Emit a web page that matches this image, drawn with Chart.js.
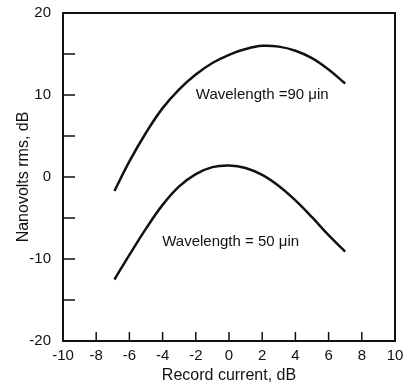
<!DOCTYPE html>
<html>
<head>
<meta charset="utf-8">
<script src="https://cdn.jsdelivr.net/npm/chart.js@4"></script>
<style>
  html, body { margin: 0; padding: 0; background: #fff; }
  #wrap { width: 411px; height: 385px; }
</style>
</head>
<body>
<div id="wrap"><canvas id="chart"></canvas></div>
<script>
// record current, dB
const recordCurrent = [-6.9, -6, -5, -4, -3, -2, -1, 0, 1, 2, 3, 4, 5, 6, 7];
// nanovolts rms, dB
const wave90 = [-1.7, 1.9, 5.4, 8.4, 10.7, 12.5, 13.9, 14.9, 15.6, 16.0, 15.9, 15.4, 14.5, 13.1, 11.4];
const wave50 = [-12.5, -9.5, -6.3, -3.4, -1.15, 0.35, 1.2, 1.4, 1.1, 0.25, -1.1, -2.85, -4.9, -7.1, -9.1];
const xTicks = [-10, -8, -6, -4, -2, 0, 2, 4, 6, 8, 10];
const yTicks = [-20, -15, -10, -5, 0, 5, 10, 15, 20];
const curveLabels = [
    { text: 'Wavelength =90 \u03bcin', x: 2, y: 10 },
    { text: 'Wavelength = 50 \u03bcin', x: 0.1, y: -7.9 }
];

const ink = '#111';
const font = "'Liberation Sans', Arial, sans-serif";

function pts(ys) {
    return recordCurrent.map((x, i) => ({ x: x, y: ys[i] }));
}

// box, inward ticks and curve labels
const decor = {
    id: 'decor',
    afterDraw(chart) {
        const ctx = chart.ctx;
        const a = chart.chartArea;
        const xs = chart.scales.x, ys = chart.scales.y;
        ctx.save();
        ctx.strokeStyle = ink;
        ctx.lineWidth = 2;
        ctx.strokeRect(a.left, a.top, a.right - a.left, a.bottom - a.top);
        ctx.lineWidth = 1.5;
        ctx.beginPath();
        xTicks.slice(1, -1).forEach(v => {
            const px = xs.getPixelForValue(v);
            ctx.moveTo(px, a.bottom);
            ctx.lineTo(px, a.bottom - 9);
        });
        yTicks.slice(1, -1).forEach(v => {
            const py = ys.getPixelForValue(v);
            ctx.moveTo(a.left, py);
            ctx.lineTo(a.left + 12, py);
        });
        ctx.stroke();

        ctx.fillStyle = ink;
        ctx.font = '15px ' + font;
        ctx.textAlign = 'center';
        ctx.textBaseline = 'middle';
        curveLabels.forEach(l => {
            ctx.fillText(l.text, xs.getPixelForValue(l.x), ys.getPixelForValue(l.y));
        });
        ctx.restore();
    }
};

new Chart(document.getElementById('chart'), {
    type: 'line',
    data: {
        datasets: [
            { data: pts(wave90), borderColor: ink, borderWidth: 2.5, pointRadius: 0, tension: 0.4, fill: false },
            { data: pts(wave50), borderColor: ink, borderWidth: 2.5, pointRadius: 0, tension: 0.4, fill: false }
        ]
    },
    options: {
        responsive: true,
        maintainAspectRatio: false,
        animation: false,
        layout: { padding: { left: 0, right: 16, top: 13, bottom: 0 } },
        plugins: {
            legend: { display: false },
            tooltip: { enabled: false }
        },
        scales: {
            x: {
                type: 'linear',
                min: -10,
                max: 10,
                afterBuildTicks: s => { s.ticks = xTicks.map(v => ({ value: v })); },
                afterFit: s => { s.height = 44; },
                grid: { display: false, drawTicks: false },
                border: { display: false },
                ticks: { color: ink, padding: 6, maxRotation: 0, font: { family: font, size: 15 } },
                title: { display: true, text: 'Record current, dB', color: ink, padding: { top: 3, bottom: 0 }, font: { family: font, size: 16 } }
            },
            y: {
                min: -20,
                max: 20,
                afterBuildTicks: s => { s.ticks = yTicks.map(v => ({ value: v })); },
                afterFit: s => { s.width = 63; s.paddingTop = 8; s.paddingBottom = 8; },
                grid: { display: false, drawTicks: false },
                border: { display: false },
                ticks: {
                    color: ink,
                    padding: 12,
                    font: { family: font, size: 15 },
                    callback: v => (v % 10 === 0 ? String(v) : '')
                },
                title: { display: true, text: 'Nanovolts rms, dB', color: ink, padding: { top: 14, bottom: 0 }, font: { family: font, size: 16 } }
            }
        }
    },
    plugins: [decor]
});
</script>
</body>
</html>
